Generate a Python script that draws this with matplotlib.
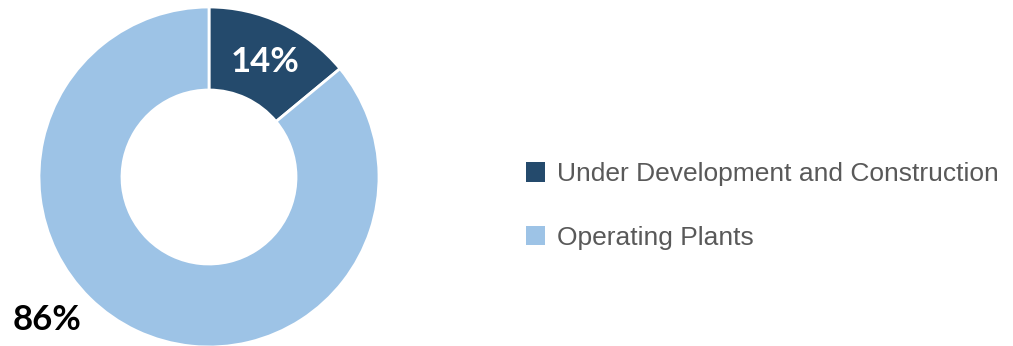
import matplotlib
matplotlib.use("Agg")
import matplotlib.pyplot as plt

categories = ["Under Development and Construction", "Operating Plants"]
shares = [14, 86]
colors = ["#244A6C", "#9DC3E6"]

W, H = 1013, 346
fig = plt.figure(figsize=(W / 100, H / 100), dpi=100)
ax = fig.add_axes([0, 0, 1, 1])

wedges, _ = ax.pie(shares, colors=colors, startangle=90, counterclock=False,
                   center=(209, H - 177), radius=170,
                   wedgeprops=dict(width=83, edgecolor="white", linewidth=2))
ax.set_xlim(0, W)
ax.set_ylim(0, H)
ax.set_aspect("equal")
ax.axis("off")

ax.text(265, H - 62, f"{shares[0]}%", color="white", fontsize=25,
        fontweight="bold", family="Lato", ha="center", va="center")
ax.text(47, H - 320, f"{shares[1]}%", color="black", fontsize=25,
        fontweight="bold", family="Lato", ha="center", va="center")

leg = ax.legend(wedges, categories, loc="center left",
                bbox_to_anchor=(515 / W, (H - 206) / H), frameon=False,
                prop=dict(family="Liberation Sans", size=19),
                labelspacing=1.5, handlelength=0.75, handleheight=0.75,
                handletextpad=0.45, borderaxespad=0)
for t in leg.get_texts():
    t.set_color("#595959")
for h in leg.legend_handles:
    h.set_edgecolor("none")

fig.savefig("out.png", dpi=100)
